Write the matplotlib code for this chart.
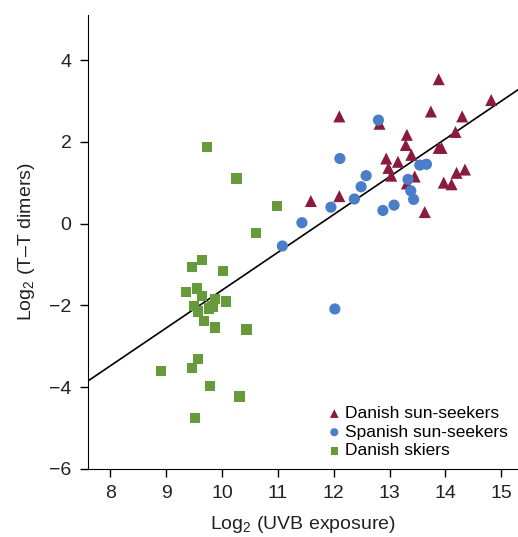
import matplotlib.pyplot as plt
import numpy as np

plt.rcParams['font.family'] = ['Liberation Sans', 'DejaVu Sans']
plt.rcParams['mathtext.fontset'] = 'custom'
plt.rcParams['mathtext.rm'] = 'Liberation Sans'
plt.rcParams['mathtext.it'] = 'Liberation Sans:italic'

# Danish sun-seekers (triangles)
dss_x = [13.88, 14.82, 13.74, 14.30, 12.10, 12.82, 14.18, 13.31, 13.29, 13.88,
         13.93, 13.39, 12.94, 13.15, 12.98, 13.03, 13.45, 13.31, 14.35, 14.20,
         13.97, 14.11, 11.59, 12.10, 13.63]
dss_y = [3.53, 3.02, 2.74, 2.62, 2.62, 2.44, 2.24, 2.17, 1.92, 1.85,
         1.85, 1.68, 1.59, 1.51, 1.36, 1.17, 1.15, 0.98, 1.32, 1.24,
         1.00, 0.96, 0.55, 0.67, 0.28]

# Spanish sun-seekers (circles)
sss_x = [12.80, 12.11, 12.58, 12.49, 12.37, 11.95, 11.43, 12.88, 13.08, 13.33,
         13.38, 13.43, 13.54, 13.66, 11.08, 12.02]
sss_y = [2.53, 1.59, 1.17, 0.90, 0.60, 0.40, 0.02, 0.32, 0.45, 1.08,
         0.80, 0.59, 1.43, 1.45, -0.55, -2.09]

# Danish skiers (squares)
dsk_x = [9.73, 10.26, 10.98, 10.61, 9.64, 9.46, 10.02, 9.36, 9.55, 9.64,
         9.87, 10.07, 9.50, 9.57, 9.76, 9.83, 9.68, 9.87, 10.44, 9.57,
         9.46, 8.91, 9.78, 10.31, 9.52]
dsk_y = [1.87, 1.10, 0.43, -0.24, -0.90, -1.06, -1.16, -1.67, -1.59, -1.77,
         -1.85, -1.91, -2.02, -2.15, -2.08, -2.03, -2.39, -2.54, -2.59, -3.31,
         -3.53, -3.60, -3.98, -4.23, -4.76]

# regression line
slope = 0.925
intercept = -10.88

red = '#8b1a3f'
blue = '#4a7ec8'
green = '#679a3a'

fig = plt.figure(figsize=(5.18, 5.37), dpi=100)
ax = fig.add_axes([0.170, 0.127, 0.83, 0.845])

ax.axline((0, intercept), slope=slope, color='black', lw=1.2, zorder=1)

ax.scatter(dsk_x, dsk_y, marker='s', s=55, color=green, edgecolors='none',
           label='Danish skiers', zorder=2)
ax.scatter(dss_x, dss_y, marker='^', s=75, color=red, edgecolors='none',
           label='Danish sun-seekers', zorder=3)
ax.scatter(sss_x, sss_y, marker='o', s=65, color=blue, edgecolors='none',
           label='Spanish sun-seekers', zorder=4)

ax.set_xlim(7.6, 15.3)
ax.set_ylim(-6, 5.1)
ax.set_xticks(range(8, 16))
ax.set_yticks([-6, -4, -2, 0, 2, 4])
ax.set_yticklabels(['\u22126', '\u22124', '\u22122', '0', '2', '4'])

ax.spines['top'].set_visible(False)
ax.spines['right'].set_visible(False)
ax.tick_params(direction='out', length=6, width=1, labelsize=14, pad=6,
               labelcolor='#222222')

ax.set_xlabel('Log$_2$ (UVB exposure)', fontsize=14, labelpad=8, color='#222222')
ax.set_ylabel('Log$_2$ (T\u2013T dimers)', fontsize=14, labelpad=9, color='#222222')

handles, labels = ax.get_legend_handles_labels()
order = [1, 2, 0]
ax.legend([handles[i] for i in order], [labels[i] for i in order],
          loc='lower right', frameon=False, fontsize=12.5, markerscale=0.72,
          handletextpad=0.1, labelspacing=0.2, borderaxespad=0.2,
          handlelength=1.0, bbox_to_anchor=(1.0, 0.0))

fig.savefig('out.png', dpi=100)
